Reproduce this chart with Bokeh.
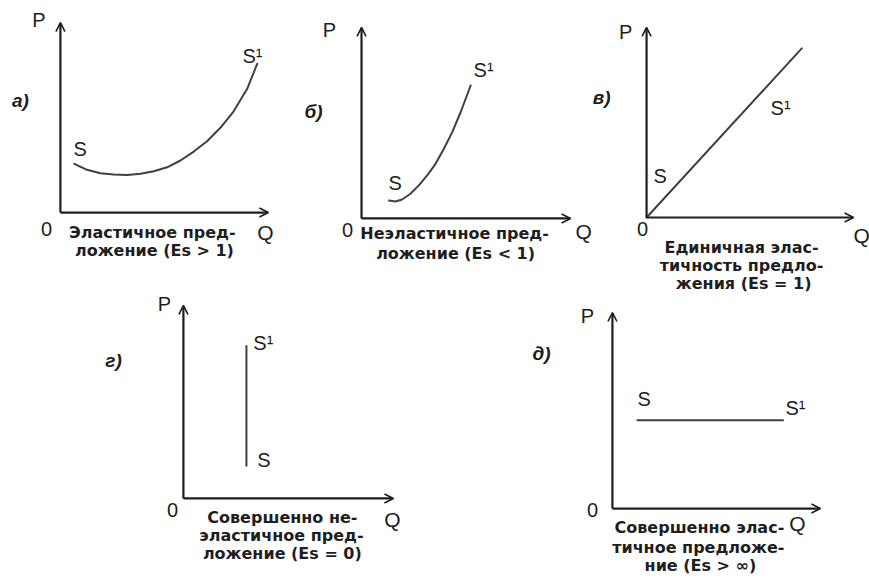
from bokeh.plotting import figure
from bokeh.models import Range1d, OpenHead, Arrow, ColumnDataSource
from bokeh.layouts import column, row
from bokeh.embed import file_html
from bokeh.resources import INLINE
from bokeh.core.properties import value

# ---------------- data (Q, P in panel units, axes run 0..10) ----------------
AXIS_MAX = 10

# а) elastic supply (Es > 1): U-shaped curve
a_q = [0.67, 1.28, 1.92, 2.56, 3.21, 3.85, 4.49, 5.13, 5.77, 6.41, 7.05, 7.69, 8.33, 8.98, 9.46]
a_p = [2.56, 2.25, 2.07, 2.00, 1.98, 2.04, 2.17, 2.38, 2.74, 3.21, 3.75, 4.46, 5.33, 6.51, 7.83]
# б) inelastic supply (Es < 1)
b_q = [1.31, 1.63, 1.94, 2.34, 2.74, 3.14, 3.54, 3.94, 4.34, 4.74, 5.22]
b_p = [0.94, 0.89, 0.99, 1.29, 1.73, 2.25, 2.86, 3.65, 4.52, 5.56, 6.96]
# в) unit elasticity (Es = 1): straight line through origin
v_q = [0.0, 7.5]
v_p = [0.0, 8.9]
# г) perfectly inelastic (Es = 0): vertical line
g_q = [3.0, 3.0]
g_p = [1.7, 7.9]
# д) perfectly elastic: horizontal line
d_q = [1.2, 8.2]
d_p = [4.5, 4.5]

letters = ["а)", "б)", "в)", "г)", "д)"]
captions = [
    ["Эластичное пред-", "ложение (Es > 1)"],
    ["Неэластичное пред-", "ложение (Es < 1)"],
    ["Единичная элас-", "тичность предло-", "жения (Es = 1)"],
    ["Совершенно не-", "эластичное пред-", "ложение (Es = 0)"],
    ["Совершенно элас-", "тичное предложе-", "ние (Es > ∞)"],
]

INK = "#1e1e1e"
CURVE = "#404040"
FONT = "Liberation Sans"
CAP_FONT = "DejaVu Sans"


def make_panel(width, height, xr, yr, q, p_vals, letter, letter_xy, p_xy,
               zero_xy, q_xy, q_align, s_xy, s1_xy, caps, caps_xy):
    p = figure(width=width, height=height, x_range=Range1d(*xr), y_range=Range1d(*yr),
               output_backend="svg", toolbar_location=None, min_border=0,
               x_axis_location=None, y_axis_location=None,
               outline_line_color=None, background_fill_color="white",
               border_fill_color="white")
    p.grid.visible = False
    # axes as arrows
    p.add_layout(Arrow(end=OpenHead(size=9, line_width=1.6, line_color=INK),
                       x_start=0, y_start=0, x_end=AXIS_MAX, y_end=0,
                       line_width=2.2, line_color=INK))
    p.add_layout(Arrow(end=OpenHead(size=9, line_width=1.6, line_color=INK),
                       x_start=0, y_start=0, x_end=0, y_end=AXIS_MAX,
                       line_width=2.2, line_color=INK))
    # supply curve
    p.line(q, p_vals, line_width=2.0, line_color=CURVE, line_cap="round",
           line_join="round")
    # axis letters
    p.text(x=[p_xy[0], zero_xy[0]], y=[p_xy[1], zero_xy[1]], text=["P", "0"],
           text_font=value(FONT), text_font_size="20px", text_color=INK,
           text_align="center", text_baseline="middle")
    p.text(x=[q_xy[0]], y=[q_xy[1]], text=["Q"], text_font=value(FONT),
           text_font_size="21px", text_color=INK, text_align=q_align,
           text_baseline="middle")
    # S labels
    p.text(x=[s_xy[0], s1_xy[0]], y=[s_xy[1], s1_xy[1]], text=["S", "S¹"],
           text_font=value(FONT), text_font_size="20px", text_color=INK,
           text_align="left", text_baseline="middle")
    # panel letter
    p.text(x=[letter_xy[0]], y=[letter_xy[1]], text=[letter], text_font=value(FONT),
           text_font_size="19px", text_font_style="bold italic", text_color=INK,
           text_align="center", text_baseline="middle")
    # caption
    src = ColumnDataSource(dict(x=[c[0] for c in caps_xy], y=[c[1] for c in caps_xy], t=caps))
    p.text(x="x", y="y", text="t", source=src, text_font=value(CAP_FONT),
           text_font_size="16px", text_font_style="bold", text_color=INK,
           text_align="center", text_baseline="middle")
    return p


pa = make_panel(296, 293, (-2.88, 11.35), (-4.26, 11.16), a_q, a_p, letters[0],
                (-1.92, 5.89), (-1.03, 10.11), (-0.67, -0.84), (9.86, -1.05), "center",
                (0.63, 3.32), (8.75, 8.26), captions[0], [(4.42, -1.05), (4.52, -2.0)])
pb = make_panel(295, 293, (-3.11, 11.0), (-3.93, 11.41), b_q, b_p, letters[1],
                (-2.30, 5.60), (-1.53, 9.84), (-0.67, -0.63), (10.62, -0.68), "center",
                (1.29, 1.88), (5.36, 7.75), captions[1], [(4.45, -0.79), (4.50, -1.83)])
pc = make_panel(278, 293, (-2.66, 10.77), (-4.0, 11.42), v_q, v_p, letters[2],
                (-2.17, 6.32), (-1.01, 9.74), (-0.19, -0.63), (10.0, -0.95), "left",
                (0.34, 2.16), (5.99, 5.74), captions[2],
                [(4.59, -1.58), (4.59, -2.53), (4.69, -3.47)])
pg = make_panel(520, 286, (-8.71, 16.05), (-4.20, 10.62), g_q, g_p, letters[3],
                (-3.33, 7.15), (-0.90, 10.10), (-0.52, -0.62), (9.95, -1.09), "center",
                (3.52, 1.97), (3.33, 8.03), captions[3],
                [(4.71, -0.98), (4.67, -1.92), (4.71, -2.85)])
pd = make_panel(349, 286, (-4.42, 12.36), (-3.62, 10.97), d_q, d_p, letters[4],
                (-3.41, 7.91), (-1.20, 9.80), (-0.96, -0.10), (8.89, -0.77), "center",
                (1.20, 5.61), (8.32, 5.15), captions[4],
                [(4.18, -0.97), (4.13, -1.99), (4.23, -2.91)])

layout = column(row(pa, pb, pc), row(pg, pd))

open("out.html", "w").write(file_html(layout, INLINE))
